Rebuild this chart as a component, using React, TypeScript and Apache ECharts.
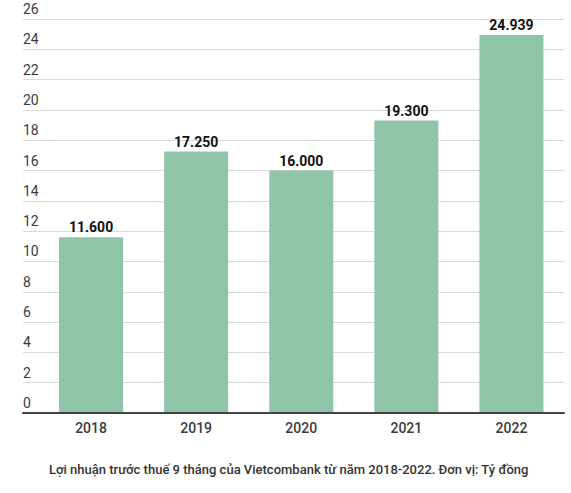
import { useEffect, useRef } from 'react';
import * as echarts from 'echarts';

const years = ['2018', '2019', '2020', '2021', '2022'];
const profits = [11.6, 17.25, 16.0, 19.3, 24.939];
const caption = 'Lợi nhuận trước thuế 9 tháng của Vietcombank từ năm 2018-2022. Đơn vị: Tỷ đồng';

const FONT = 'Roboto, "Noto Sans", sans-serif';

const App = () => {
  const chartRef = useRef<HTMLDivElement>(null);

  useEffect(() => {
    if (!chartRef.current) return;
    document.body.style.margin = '0';
    const chart = echarts.init(chartRef.current, undefined, { renderer: 'svg' });

    const option: echarts.EChartsOption = {
      animation: false,
      backgroundColor: '#fff',
      textStyle: { fontFamily: FONT },
      title: {
        text: caption,
        left: 49,
        top: 463,
        padding: 0,
        textStyle: { fontFamily: FONT, fontSize: 13, fontWeight: 500, color: '#333' }
      },
      grid: [
        { left: 23, right: 7, top: 19, bottom: 80 },
        { left: 38.5, right: 7, top: 19, bottom: 80 }
      ],
      xAxis: [
        {
          gridIndex: 0,
          type: 'value',
          min: 0,
          max: 1,
          z: 5,
          axisLabel: { show: false },
          axisTick: { show: false },
          splitLine: { show: false },
          axisLine: { show: true, lineStyle: { color: '#444', width: 2 } }
        },
        {
          gridIndex: 1,
          type: 'category',
          data: years,
          axisLine: { show: false },
          axisTick: { show: false },
          axisLabel: { color: '#3a3a3a', fontSize: 14, fontWeight: 500, fontFamily: FONT, margin: 8 }
        }
      ],
      yAxis: [
        {
          gridIndex: 0,
          type: 'value',
          min: 0,
          max: 26,
          interval: 2,
          axisLine: { show: false },
          axisTick: { show: false },
          axisLabel: {
            inside: true,
            align: 'left',
            verticalAlign: 'bottom',
            margin: 0,
            padding: [0, 0, 3, 0],
            color: '#3a3a3a',
            fontSize: 14,
            fontFamily: FONT
          },
          splitLine: { lineStyle: { color: '#d9d9d9', width: 1 } }
        },
        {
          gridIndex: 1,
          type: 'value',
          min: 0,
          max: 26,
          show: false
        }
      ],
      series: [
        {
          type: 'bar',
          xAxisIndex: 1,
          yAxisIndex: 1,
          data: profits,
          barWidth: 64,
          itemStyle: { color: '#8fc4a8' },
          label: {
            show: true,
            position: 'top',
            distance: 3,
            color: '#111',
            fontSize: 14,
            fontWeight: 'bold',
            fontFamily: FONT,
            formatter: (p: any) => p.value.toFixed(3)
          }
        }
      ]
    };

    chart.setOption(option);
    return () => chart.dispose();
  }, []);

  return <div ref={chartRef} style={{ width: 571, height: 493 }} />;
};

export default App;
